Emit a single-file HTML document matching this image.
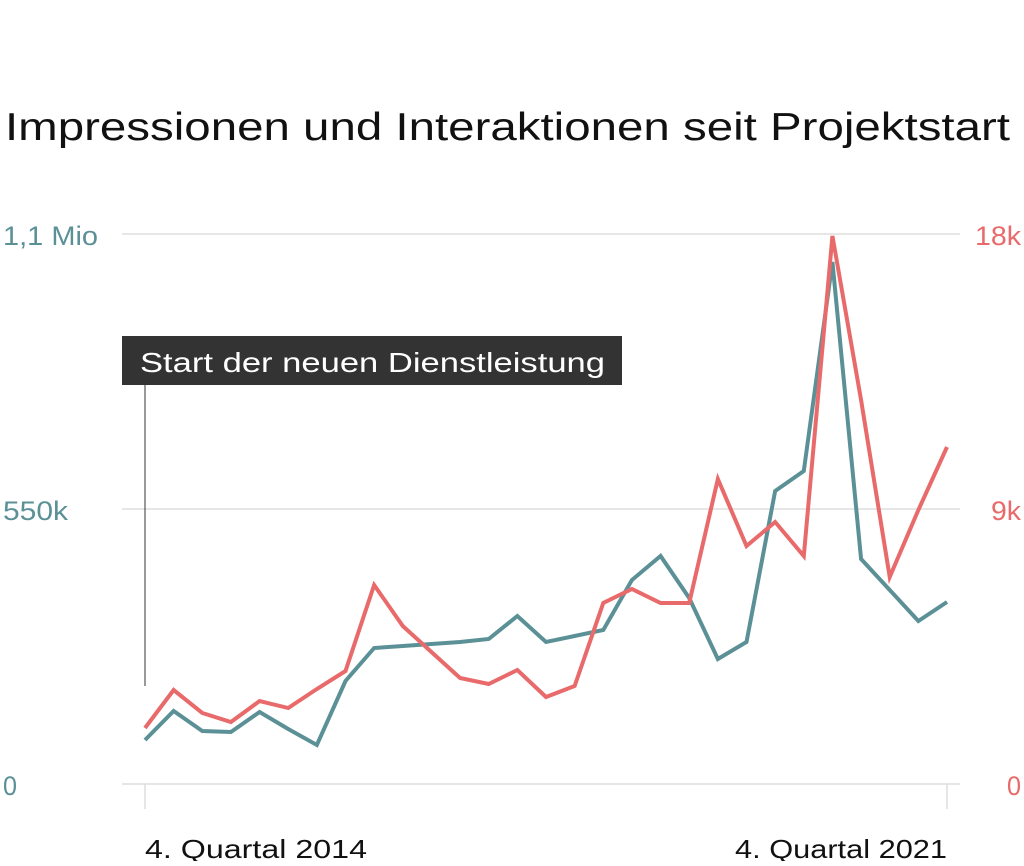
<!DOCTYPE html>
<html><head><meta charset="utf-8"><style>
body{margin:0;background:#fff;font-family:"Liberation Sans",sans-serif}
svg text{font-family:"Liberation Sans",sans-serif}
</style></head><body>
<svg width="1024" height="861" viewBox="0 0 1024 861" xmlns="http://www.w3.org/2000/svg" id="chart">
<text x="5" y="140" font-size="39" fill="#111" textLength="1005" lengthAdjust="spacingAndGlyphs">Impressionen und Interaktionen seit Projektstart</text>
<g id="grid"></g>
<g id="series"></g>
<line x1="145" y1="385" x2="145" y2="686" stroke="#333" stroke-width="1"/>
<rect x="122" y="336" width="500" height="49" fill="#333"/>
<text x="140" y="372" font-size="28" fill="#fff" textLength="465" lengthAdjust="spacingAndGlyphs">Start der neuen Dienstleistung</text>
<text x="145" y="858" font-size="26" fill="#111" textLength="222" lengthAdjust="spacingAndGlyphs">4. Quartal 2014</text>
<text x="735" y="858" font-size="26" fill="#111" textLength="212" lengthAdjust="spacingAndGlyphs">4. Quartal 2021</text>
</svg>
<script>
const categories = Array.from({length:29},(_,i)=>i);
const impressions = [88000,146000,106000,104000,144000,110000,78000,206000,272000,276000,280000,284000,290000,336000,284000,296000,308000,408000,456000,372000,250000,284000,586000,626000,1044000,450000,388000,326000,364000];
const interactions = [1833,3076,2324,2029,2716,2487,3109,3698,6513,5171,4320,3469,3273,3731,2847,3207,5924,6382,5924,5924,9982,7789,8574,7462,17935,12567,6775,8967,11029];
const leftTicks = [0,550000,1100000];
const leftTickLabels = ["0","550k","1,1 Mio"];
const rightTickLabels = ["0","9k","18k"];
const leftLabelWidths = [14,65,95];
const rightLabelWidths = [14,30,46];
const leftMax = 1100000, rightMax = 18000;
const ns="http://www.w3.org/2000/svg";
const x0=145,x1=947,y0=784,y1=234;
const xs=i=>x0+(x1-x0)*i/(categories.length-1);
const yl=v=>y0-(y0-y1)*v/leftMax;
const yr=v=>y0-(y0-y1)*v/rightMax;
const grid=document.getElementById('grid'), ser=document.getElementById('series');
function mk(t,a,p){const e=document.createElementNS(ns,t);for(const k in a)e.setAttribute(k,a[k]);p.appendChild(e);return e;}
leftTicks.forEach((v,i)=>{
  const y=yl(v);
  const g=mk('line',{x1:122,x2:960,y1:y,y2:y,stroke:'#ddd','stroke-width':1.5},grid);
  
  
  const t=mk('text',{x:3,y:y+11,'font-size':27,fill:'#5b9196',textLength:leftLabelWidths[i],lengthAdjust:'spacingAndGlyphs'},grid);
  t.textContent=leftTickLabels[i];
  
  
  const r=mk('text',{x:1021-rightLabelWidths[i],y:y+11,'font-size':27,fill:'#e86a6a',textLength:rightLabelWidths[i],lengthAdjust:'spacingAndGlyphs'},grid);
  r.textContent=rightTickLabels[i];
  
  
});
[0,categories.length-1].forEach(i=>{
  const t=mk('line',{x1:xs(i),x2:xs(i),y1:784,y2:809,stroke:'#ddd','stroke-width':1.5},grid);
  
  
});
const p1=mk('polyline',{points:impressions.map((v,i)=>xs(i)+','+yl(v)).join(' '),fill:'none',stroke:'#5b9196','stroke-width':4,'stroke-linejoin':'miter'},ser);


const p2=mk('polyline',{points:interactions.map((v,i)=>xs(i)+','+yr(v)).join(' '),fill:'none',stroke:'#e86a6a','stroke-width':4,'stroke-linejoin':'miter'},ser);


</script>
</body></html>
